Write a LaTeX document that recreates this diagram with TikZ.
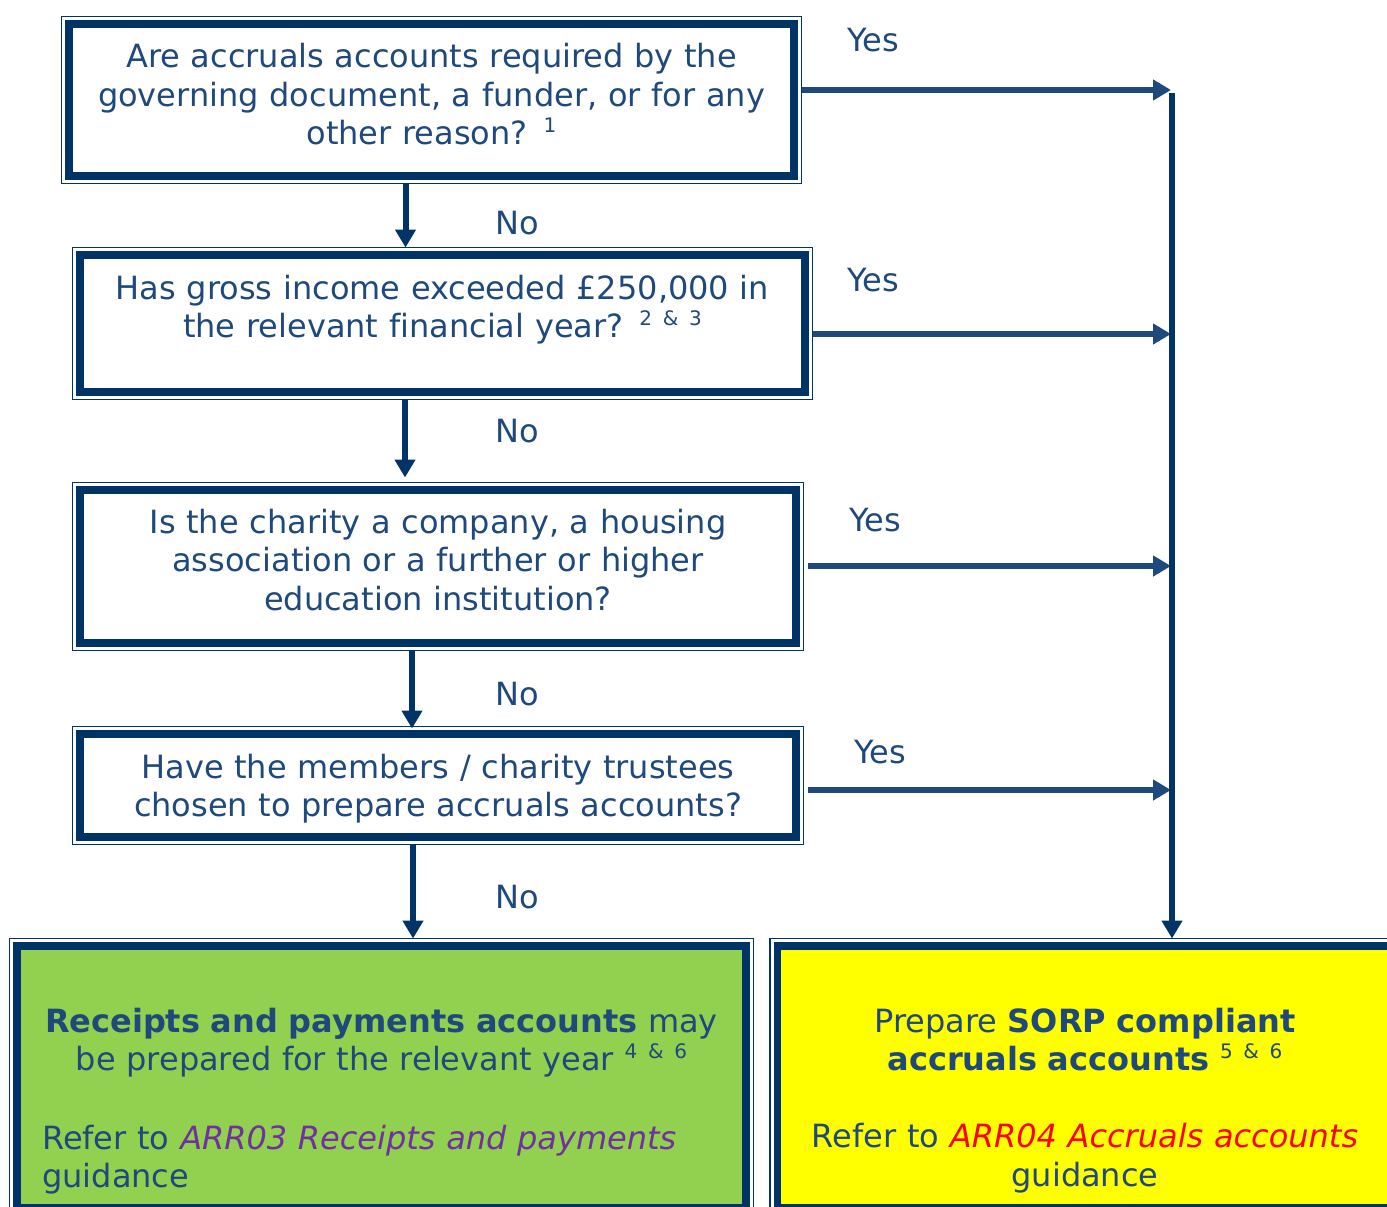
\documentclass[tikz,border=0pt]{standalone}
\usepackage{fontspec}
\setmainfont[Ligatures=NoCommon]{DejaVu Sans}
\usetikzlibrary{arrows.meta}
\definecolor{navy}{HTML}{003366}
\definecolor{txt}{HTML}{1F497D}
\definecolor{grn}{HTML}{92D050}
\definecolor{ylw}{HTML}{FFFF00}
\definecolor{purp}{HTML}{7030A0}
\newcommand\sups[1]{\raisebox{12pt}{\fontsize{20}{20}\selectfont #1}}
\tikzset{
  inbox/.style={draw=navy, line width=7.5pt, inner sep=0pt, outer sep=0pt},
  outbox/.style={draw=navy, line width=1.5pt, inner sep=0pt, outer sep=0pt},
  txtnode/.style={text=txt, font=\fontsize{32}{38.5}\selectfont, inner sep=0pt, anchor=base},
  ctext/.style={txtnode, text width=760pt, align=center},
  arr/.style={draw=navy, line width=6pt, -{Triangle[length=18pt,width=20pt]}},
  harr/.style={arr, draw=txt},
}
\begin{document}
\begin{tikzpicture}[x=1pt,y=-1pt]
\useasboundingbox (0,0) rectangle (1387,1207);
\clip (0,0) rectangle (1387,1207);
% boxes
\node[outbox, minimum width=740pt, minimum height=167pt] (b1o) at (431.5,100) {};
\node[inbox, minimum width=725pt, minimum height=152pt] (b1) at (431.5,100) {};
\node[outbox, minimum width=740pt, minimum height=152pt] (b2o) at (442.5,323.5) {};
\node[inbox, minimum width=725pt, minimum height=137pt] (b2) at (442.5,323.5) {};
\node[outbox, minimum width=731pt, minimum height=168pt] (b3o) at (438,566.5) {};
\node[inbox, minimum width=716pt, minimum height=153pt] (b3) at (438,566.5) {};
\node[outbox, minimum width=731pt, minimum height=118pt] (b4o) at (438,785.5) {};
\node[inbox, minimum width=716pt, minimum height=103pt] (b4) at (438,785.5) {};
\node[outbox, minimum width=744pt, minimum height=277pt] (go) at (381.5,1077) {};
\node[inbox, fill=grn, minimum width=729pt, minimum height=262pt] (g) at (381.5,1077) {};
\node[outbox, minimum width=637.5pt, minimum height=277pt] (yo) at (1088.75,1077) {};
\node[inbox, fill=ylw, minimum width=622.5pt, minimum height=262pt] (y) at (1088.75,1077) {};
% texts
\node[ctext] (t1) at (431.5,68) {Are accruals accounts required by the\\governing document, a funder, or for any\\other reason? \sups{1}};
\node[ctext] (t2) at (442.5,299) {Has gross income exceeded £250,000 in\\the relevant financial year? \sups{2 \& 3}};
\node[ctext] (t3) at (438,533) {Is the charity a company, a housing\\association or a further or higher\\education institution?};
\node[ctext] (t4) at (438,778) {Have the members / charity trustees\\chosen to prepare accruals accounts?};
\node[ctext] (t5) at (381.5,1032) {\textbf{Receipts and payments accounts} may\\be prepared for the relevant year \sups{4 \& 6}};
\node[txtnode, anchor=base west, text width=700pt, align=left] (t5b) at (42,1149) {Refer to \textcolor{purp}{\itshape ARR03 Receipts and payments}\\guidance};
\node[ctext] (t6) at (1085,1032) {Prepare \textbf{SORP compliant}\\\textbf{accruals accounts} \sups{5 \& 6}\\[38.5pt]Refer to \textcolor{red}{\itshape ARR04 Accruals accounts}\\guidance};
% labels
\node[txtnode] (y1) at (873,52) {Yes};
\node[txtnode] (y2) at (873,291) {Yes};
\node[txtnode] (y3) at (875,531) {Yes};
\node[txtnode] (y4) at (880,763) {Yes};
\node[txtnode] (n1) at (517,234) {No};
\node[txtnode] (n2) at (517,442) {No};
\node[txtnode] (n3) at (517,705) {No};
\node[txtnode] (n4) at (517,908) {No};
% connectors
\coordinate (a1) at (405.5,0);
\coordinate (a2) at (405,0);
\coordinate (a3) at (412,0);
\coordinate (a4) at (413,0);
\coordinate (v) at (1172,93);
\draw[arr] (b1o.south -| a1) -- (b2o.north -| a1);
\draw[arr] (b2o.south -| a2) -- ([yshift=5pt]b3o.north -| a2);
\draw[arr] (b3o.south -| a3) -- ([yshift=-2pt]b4o.north -| a3);
\draw[arr] (b4o.south -| a4) -- (go.north -| a4);
\draw[harr] (b1o.east |- 0,90) -- (1171,90);
\draw[harr] (b2o.east |- 0,334) -- (1171,334);
\draw[harr] ([xshift=4pt]b3o.east |- 0,566) -- (1171,566);
\draw[harr] ([xshift=4pt]b4o.east |- 0,790) -- (1171,790);
\draw[arr] (v) -- (yo.north -| v);
\end{tikzpicture}
\end{document}
